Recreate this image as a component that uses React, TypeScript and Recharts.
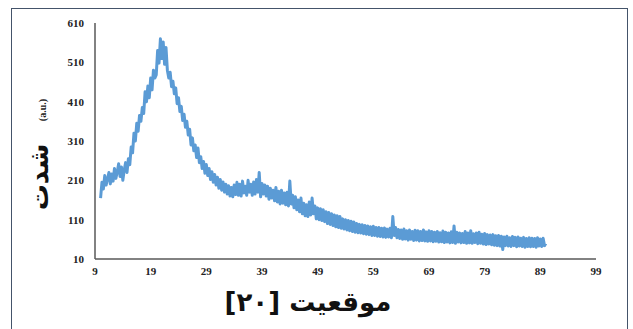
import { LineChart, Line, XAxis, YAxis } from 'recharts';

// scan sampled every 0.25 degree, starting at 10
const startAngle = 10;
const angleStep = 0.25;
const intensity = [
  165, 205, 188, 222, 198, 214, 230, 201, 226, 208,
  240, 215, 232, 252, 220, 244, 210, 236, 255, 230,
  265, 250, 295, 280, 330, 310, 355, 335, 375, 360,
  395, 380, 435, 410, 450, 420, 470, 440, 490, 470,
  478, 540, 508, 570, 520, 562, 505, 548, 490, 470,
  485, 448, 462, 430, 445, 405, 420, 385, 398, 362,
  378, 345, 360, 325, 340, 300, 318, 285, 300, 268,
  292, 255, 270, 240, 258, 228, 250, 222, 240, 212,
  232, 205, 225, 198, 218, 190, 212, 185, 206, 180,
  200, 175, 196, 170, 192, 168, 198, 174, 205, 172,
  200, 170, 208, 178, 195, 172, 210, 180, 200, 172,
  206, 175, 212, 180, 230, 168, 202, 175, 198, 170,
  195, 162, 190, 165, 185, 158, 192, 155, 182, 150,
  185, 152, 178, 148, 180, 145, 208, 150, 172, 140,
  168, 135, 160, 130, 165, 125, 152, 120, 148, 118,
  155, 122, 165, 125, 145, 112, 140, 110, 138, 108,
  135, 105, 130, 100, 128, 98, 125, 95, 122, 92,
  120, 90, 118, 88, 112, 86, 110, 84, 108, 82,
  106, 80, 104, 78, 100, 77, 98, 76, 97, 74,
  95, 73, 94, 72, 92, 70, 93, 70, 90, 68,
  90, 67, 88, 66, 89, 65, 86, 66, 88, 64,
  118, 70, 90, 64, 85, 62, 84, 60, 86, 61,
  82, 58, 84, 60, 80, 57, 83, 58, 82, 56,
  80, 57, 84, 56, 79, 55, 82, 56, 80, 54,
  78, 55, 80, 53, 77, 54, 81, 52, 78, 53,
  76, 51, 79, 52, 94, 50, 78, 53, 76, 51,
  75, 52, 80, 50, 76, 51, 82, 50, 74, 52,
  76, 49, 78, 50, 73, 48, 75, 47, 72, 48,
  71, 46, 72, 45, 69, 44, 70, 43, 68, 34,
  66, 44, 68, 43, 64, 42, 67, 44, 65, 41,
  66, 43, 63, 42, 65, 40, 62, 42, 64, 41,
  63, 42, 62, 40, 64, 43, 61, 42, 63, 44,
  50,
];

const xTicks = [9, 19, 29, 39, 49, 59, 69, 79, 89, 99];
const yTicks = [10, 110, 210, 310, 410, 510, 610];

const xTitle = 'موقعیت [۲۰]';
const yTitle = 'شدت';
const yUnit = '(a.u.)';

const data = intensity.map((v, i) => ({ angle: startAngle + i * angleStep, value: v }));

const tickStyle = { fontFamily: 'Liberation Serif', fontWeight: 700, fontSize: 11, fill: '#222' };

export default function App() {
  return (
    <div style={{ position: 'absolute', left: 0, top: 0, width: 633, height: 329, background: '#fff', overflow: 'hidden' }}>
      <div
        style={{
          position: 'absolute',
          left: 11,
          top: 8,
          width: 617,
          height: 340,
          border: '1.5px solid #44546a',
          boxSizing: 'border-box',
        }}
      />
      <LineChart
        width={633}
        height={329}
        data={data}
        margin={{ top: 23, right: 37, left: 35, bottom: 40 }}
        style={{ position: 'absolute', left: 0, top: 0 }}
      >
        <XAxis
          dataKey="angle"
          type="number"
          domain={[9, 99]}
          ticks={xTicks}
          tickLine={false}
          axisLine={{ stroke: '#595959', strokeWidth: 1.5 }}
          tick={tickStyle}
          tickMargin={2}
          height={30}
          interval={0}
        />
        <YAxis
          type="number"
          domain={[10, 610]}
          ticks={yTicks}
          tickLine={false}
          axisLine={{ stroke: '#595959', strokeWidth: 1.5 }}
          tick={tickStyle}
          tickMargin={5}
          width={60}
          interval={0}
        />
        <Line
          type="linear"
          dataKey="value"
          stroke="#5b9bd5"
          strokeWidth={3}
          strokeLinejoin="round"
          dot={false}
          isAnimationActive={false}
        />
      </LineChart>
      <div
        dir="rtl"
        style={{
          position: 'absolute',
          left: 158,
          top: 286,
          width: 300,
          textAlign: 'center',
          fontFamily: 'DejaVu Sans',
          fontWeight: 700,
          fontSize: 26,
          lineHeight: '32px',
          color: '#111',
        }}
      >
        {xTitle}
      </div>
      <div
        dir="rtl"
        style={{
          position: 'absolute',
          left: 39 - 50,
          top: 177 - 16,
          width: 100,
          height: 32,
          lineHeight: '32px',
          textAlign: 'center',
          transform: 'rotate(-90deg)',
          fontFamily: 'DejaVu Sans',
          fontWeight: 700,
          fontSize: 26,
          color: '#111',
        }}
      >
        {yTitle}
      </div>
      <div
        style={{
          position: 'absolute',
          left: 43 - 30,
          top: 110 - 8,
          width: 60,
          height: 16,
          lineHeight: '16px',
          textAlign: 'center',
          transform: 'rotate(-90deg)',
          fontFamily: 'Liberation Serif',
          fontWeight: 700,
          fontSize: 10,
          color: '#222',
        }}
      >
        {yUnit}
      </div>
    </div>
  );
}
